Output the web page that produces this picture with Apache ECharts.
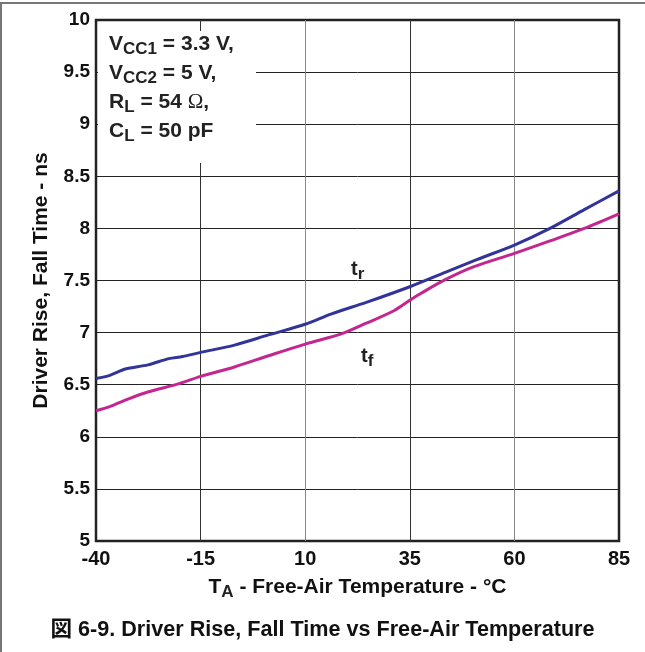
<!DOCTYPE html>
<html>
<head>
<meta charset="utf-8">
<script src="https://cdn.jsdelivr.net/npm/echarts@6/dist/echarts.min.js"></script>
<style>
html, body { margin: 0; padding: 0; background: #fff; }
#chart { width: 645px; height: 652px; }
</style>
</head>
<body>
<div id="chart"></div>
<script>
// 温度 (°C) 与上升/下降时间 (ns)
const xTicks = [-40, -15, 10, 35, 60, 85]
const riseTemp = [-40, -36.7, -33, -27.6, -22.6, -19.3, -15, -6.9, 1.4, 10, 16.3, 24.6, 35, 43.6, 51, 60, 68.5, 76.7, 85]
const riseTime = [6.56, 6.59, 6.65, 6.69, 6.75, 6.77, 6.81, 6.88, 6.98, 7.08, 7.18, 7.29, 7.44, 7.58, 7.7, 7.84, 8.0, 8.18, 8.36]
const fallTemp = [-40, -36.7, -32.5, -27.6, -20.1, -15, -6.9, 1.4, 10, 18.8, 24.6, 31.2, 35, 37.8, 43.6, 50.2, 60, 68.5, 76.7, 85]
const fallTime = [6.25, 6.29, 6.36, 6.43, 6.51, 6.58, 6.67, 6.78, 6.89, 6.99, 7.09, 7.21, 7.31, 7.38, 7.51, 7.63, 7.76, 7.88, 8.0, 8.14]
const conditions = [
  'V{s|CC1} = 3.3 V,',
  'V{s|CC2} = 5 V,',
  'R{s|L} = 54 {om|Ω},',
  'C{s|L} = 50 pF'
]

const font = 'Liberation Sans, Arial, sans-serif'
const sub = { fontSize: 17, fontWeight: 'bold', fontFamily: font, padding: [10, 0, 0, 0], lineHeight: 17, color: '#222' }

const chart = echarts.init(document.getElementById('chart'))
chart.setOption({
  animation: false,
  grid: {
    left: 96, right: 26, top: 20, bottom: 111,
    show: true, borderColor: '#222', borderWidth: 2.5, backgroundColor: 'transparent'
  },
  xAxis: {
    type: 'value',
    min: -40, max: 85, interval: 25,
    axisLine: { show: false },
    axisTick: { show: false },
    splitLine: { lineStyle: { color: ['#222', '#333', '#888', '#333', '#888', '#222'], width: 1 } },
    axisLabel: { color: '#111', fontSize: 20, fontWeight: 'bold', fontFamily: font, margin: 8,
      customValues: xTicks },
    name: 'T{s|A} - Free-Air Temperature - °C',
    nameLocation: 'middle',
    nameGap: 36,
    nameTextStyle: {
      color: '#111', fontSize: 21, fontWeight: 'bold', fontFamily: font,
      rich: { s: sub }
    }
  },
  yAxis: {
    type: 'value',
    min: 5, max: 10, interval: 0.5,
    axisLine: { show: false },
    axisTick: { show: false },
    splitLine: { lineStyle: { color: '#222', width: 1 } },
    axisLabel: { color: '#111', fontSize: 19, fontWeight: 'bold', fontFamily: font, margin: 6 },
    name: 'Driver Rise, Fall Time - ns',
    nameLocation: 'middle',
    nameGap: 44,
    nameTextStyle: { color: '#111', fontSize: 21, fontWeight: 'bold', fontFamily: font }
  },
  series: [
    {
      name: 'tr',
      type: 'line',
      data: riseTemp.map((t, i) => [t, riseTime[i]]),
      showSymbol: false,
      smooth: 0.3,
      lineStyle: { color: '#33349a', width: 3 },
      z: 3
    },
    {
      name: 'tf',
      type: 'line',
      data: fallTemp.map((t, i) => [t, fallTime[i]]),
      showSymbol: false,
      smooth: 0.3,
      lineStyle: { color: '#c4268f', width: 3 },
      z: 3
    }
  ],
  graphic: [
    // 条件说明框
    { type: 'rect', shape: { x: 98, y: 31, width: 158, height: 132 }, style: { fill: '#fff' }, z: 5 },
    ...conditions.map((s, i) => ({
      type: 'text', left: 109, top: 31 + i * 29, z: 6,
      style: {
        text: s, fill: '#222', fontSize: 21, fontWeight: 'bold', fontFamily: font,
        rich: {
          s: sub,
          om: { fontSize: 21, fontWeight: 'normal', fontFamily: 'Liberation Serif, serif', color: '#222' }
        }
      }
    })),
    {
      type: 'text', left: 344, top: 256, z: 6,
      style: {
        text: 't{s|r}', fill: '#222', fontSize: 20, fontWeight: 'bold', fontFamily: font,
        backgroundColor: '#fff', padding: [0, 7, 0, 7], rich: { s: sub }
      }
    },
    {
      type: 'text', left: 361, top: 343, z: 6,
      style: {
        text: 't{s|f}', fill: '#222', fontSize: 20, fontWeight: 'bold', fontFamily: font,
        rich: { s: sub }
      }
    },
    {
      type: 'text', left: 'center', top: 619,
      style: {
        text: '図 6-9. Driver Rise, Fall Time vs Free-Air Temperature',
        fill: '#111', fontSize: 21.6, fontWeight: 'bold',
        fontFamily: 'Liberation Sans, Noto Sans CJK JP, sans-serif'
      }
    },
    { type: 'line', shape: { x1: 0, y1: 3, x2: 645, y2: 3 }, style: { stroke: '#777', lineWidth: 2 } },
    { type: 'line', shape: { x1: 1, y1: 3, x2: 1, y2: 652 }, style: { stroke: '#777', lineWidth: 2 } }
  ]
})
</script>
</body>
</html>
